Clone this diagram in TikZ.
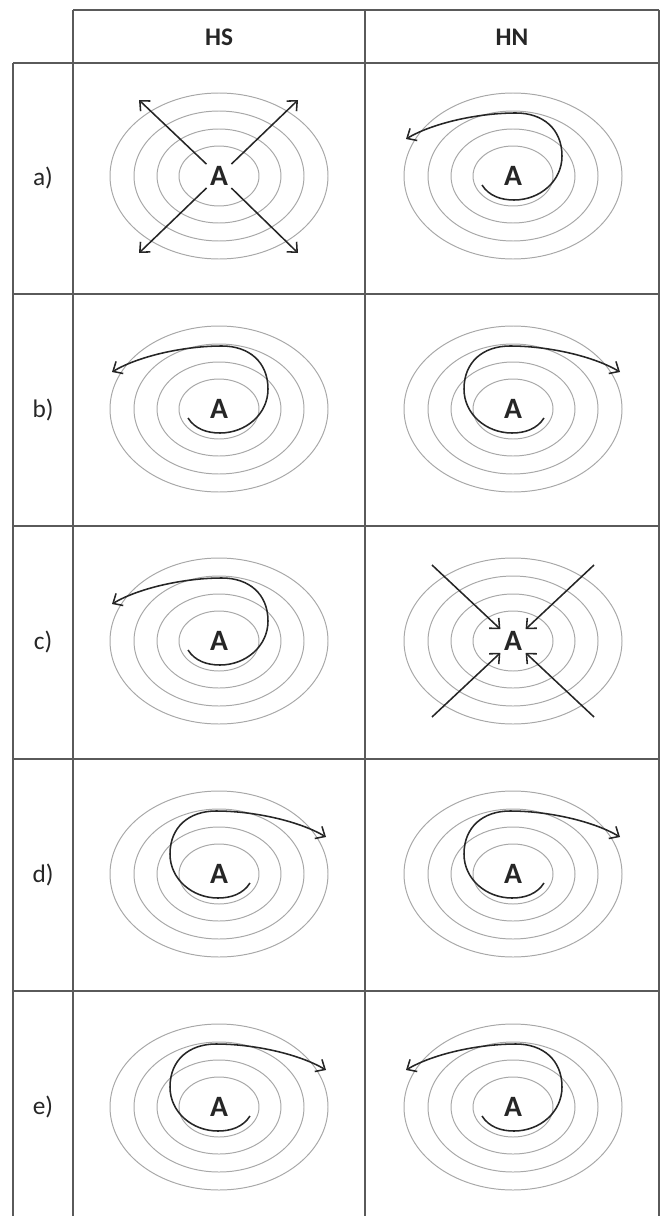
\documentclass[tikz,border=0pt]{standalone}
\usepackage{fontspec}
\setmainfont{Carlito}
\usetikzlibrary{arrows.meta}

\definecolor{gridline}{HTML}{5A5A5A}
\definecolor{ringline}{HTML}{A8A8A8}
\definecolor{inkline}{HTML}{262626}

\begin{document}
\begin{tikzpicture}[
    x=0.025cm, y=-0.025cm,
    grid/.style={draw=gridline, line width=1.1pt},
    ring/.style={draw=ringline, line width=0.7pt},
    centre/.style={circle, minimum size=0.85cm, inner sep=0pt, font=\fontsize{21}{25}\selectfont\bfseries, text=inkline},
    head/.style={font=\fontsize{18}{22}\selectfont\bfseries, text=black!85},
    rowlabel/.style={font=\fontsize{18}{22}\selectfont, text=black!85},
    ray/.style={draw=inkline, line width=1.1pt, -{Straight Barb[length=5.5pt, width=10pt]}},
    swirl/.pic={\draw[ray] (-31,9) .. controls (-24,20) and (-12,24) .. (1,24)
        .. controls (27,24) and (49,5) .. (49,-20)
        .. controls (49,-47) and (30,-63) .. (3,-63)
        .. controls (-35,-63) and (-80,-53) .. (-107,-37);}
]
\useasboundingbox (0,0) rectangle (662,1216);

% table
\draw[grid] (73,10) -- (659,10);
\draw[grid] (13,63) -- (659,63);
\foreach \y in {294,526,759,991}
    \draw[grid] (13,\y) -- (659,\y);
\foreach \x in {13,73,365,659}
    \draw[grid] (\x,\ifnum\x=13 63\else 10\fi) -- (\x,1216);

\node[head] (hd-hs) at (219,37) {HS};
\node[head] (hd-hn) at (512,37) {HN};

\node[rowlabel] (lab-a) at (43,178) {a)};
\node[rowlabel] (lab-b) at (43,410) {b)};
\node[rowlabel] (lab-c) at (43,642) {c)};
\node[rowlabel] (lab-d) at (43,875) {d)};
\node[rowlabel] (lab-e) at (43,1107) {e)};

% centres
\node[centre] (a-hs) at (219,176) {A};
\node[centre] (a-hn) at (513,176) {A};
\node[centre] (b-hs) at (219,409) {A};
\node[centre] (b-hn) at (513,409) {A};
\node[centre] (c-hs) at (219,641) {A};
\node[centre] (c-hn) at (513,641) {A};
\node[centre] (d-hs) at (219,874) {A};
\node[centre] (d-hn) at (513,874) {A};
\node[centre] (e-hs) at (219,1107) {A};
\node[centre] (e-hn) at (513,1107) {A};

% isobars
\foreach \cell in {a-hs,a-hn,b-hs,b-hn,c-hs,c-hn,d-hs,d-hn,e-hs,e-hn}
    \foreach \rx/\ry in {109/83, 85/65, 62/47, 40/30}
        \draw[ring] (\cell) ellipse [x radius=\rx, y radius=\ry];

% a) HS: outflow
\foreach \dx/\dy [count=\i] in {-80/-76, 79/-76, -80/77, 79/77} {
    \coordinate (a-out\i) at ([shift={(\dx,\dy)}]a-hs.center);
    \draw[ray] (a-hs) -- (a-out\i);
}
% c) HN: inflow
\foreach \dx/\dy [count=\i] in {-81/-76, 81/-76, -81/76, 81/76} {
    \coordinate (c-in\i) at ([shift={(\dx,\dy)}]c-hn.center);
    \draw[ray] (c-in\i) -- (c-hn);
}

% spirals
\pic at (a-hn) {swirl};
\pic at (b-hs) {swirl};
\pic[xscale=-1] at (b-hn) {swirl};
\pic at (c-hs) {swirl};
\pic[xscale=-1] at (d-hs) {swirl};
\pic[xscale=-1] at (d-hn) {swirl};
\pic[xscale=-1] at (e-hs) {swirl};
\pic at (e-hn) {swirl};
\end{tikzpicture}
\end{document}
